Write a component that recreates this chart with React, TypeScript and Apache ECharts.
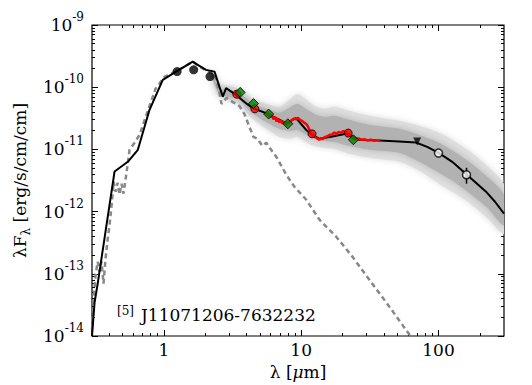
import React, { useEffect, useRef } from 'react';
import * as echarts from 'echarts';

const FONT = 'DejaVu Serif';

// ---------- data (wavelength in micron, lambda*F_lambda in erg/s/cm/cm) ----------
const modelWave = [0.30, 0.313, 0.331, 0.438, 0.547, 0.647, 0.787, 0.983, 1.23, 1.625, 1.767, 2.03, 2.34, 2.54, 2.69, 2.84, 3.36, 3.97, 4.44, 5.56, 7.77, 9.18, 10.86, 11.7, 13.6, 16.9, 21.2, 26.5, 37.0, 51.8, 68.5, 82.8, 101, 126, 158, 221, 258, 300];
const modelFlux = [1.0e-14, 3.41e-14, 7.23e-14, 4.42e-12, 6.32e-12, 9.86e-12, 4.33e-11, 1.31e-10, 1.78e-10, 2.58e-10, 2.28e-10, 1.90e-10, 1.78e-10, 1.02e-10, 7.06e-11, 9.64e-11, 7.52e-11, 5.53e-11, 4.60e-11, 3.83e-11, 2.64e-11, 3.18e-11, 2.07e-11, 1.78e-11, 1.48e-11, 1.61e-11, 1.78e-11, 1.43e-11, 1.39e-11, 1.34e-11, 1.29e-11, 1.10e-11, 8.73e-12, 6.32e-12, 4.06e-12, 2.11e-12, 1.44e-12, 9.25e-13];

const photoWave = [0.30, 0.308, 0.319, 0.330, 0.340, 0.352, 0.364, 0.377, 0.390, 0.403, 0.417, 0.431, 0.446, 0.461, 0.476, 0.492, 0.509, 0.526, 0.545, 0.563, 0.612, 0.666, 0.760, 0.870, 1.01, 1.24, 1.62, 1.79, 2.05, 2.34, 2.54, 2.63, 2.86, 3.16, 3.55, 3.86, 4.20, 4.49, 4.80, 5.22, 5.58, 5.97, 6.60, 7.30, 7.80, 8.93, 10.9, 13.6, 18.0, 23.6, 31.3, 43.8, 59.2, 65];
const photoFlux = [1.27e-14, 3.86e-14, 9.70e-14, 1.57e-13, 1.08e-13, 1.57e-13, 6.97e-14, 1.82e-13, 3.54e-13, 6.17e-13, 1.29e-12, 3.02e-12, 2.08e-12, 2.91e-12, 1.87e-12, 2.81e-12, 1.94e-12, 3.25e-12, 5.66e-12, 9.86e-12, 1.28e-11, 1.71e-11, 4.02e-11, 9.40e-11, 1.46e-10, 1.83e-10, 2.55e-10, 2.20e-10, 1.83e-10, 1.63e-10, 8.11e-11, 5.40e-11, 6.73e-11, 5.81e-11, 5.01e-11, 3.72e-11, 2.31e-11, 1.59e-11, 1.48e-11, 1.14e-11, 1.28e-11, 1.02e-11, 7.60e-12, 5.07e-12, 3.91e-12, 2.51e-12, 1.55e-12, 7.41e-13, 3.95e-13, 1.89e-13, 8.07e-14, 2.98e-14, 1.18e-14, 8.9e-15];

const irsWave = [5.56, 5.77, 5.97, 6.14, 6.28, 6.46, 6.63, 6.79, 6.94, 7.14, 7.34, 7.55, 7.77, 7.98, 8.31, 8.59, 8.88, 9.18, 9.49, 9.82, 10.15, 10.50, 10.85, 11.22, 11.53, 11.87, 12.27, 12.69, 13.12, 13.56, 13.96, 14.34, 14.83, 15.33, 16.04, 16.78, 17.44, 18.12, 18.74, 19.51, 20.28, 21.21, 22.16, 23.07, 23.97, 25.08, 26.19, 27.41, 28.82, 30.45, 32.24, 34.07, 36.0, 37.5];
const irsFlux = [3.91e-11, 3.59e-11, 3.37e-11, 3.46e-11, 3.06e-11, 3.30e-11, 2.81e-11, 3.13e-11, 2.70e-11, 2.91e-11, 2.58e-11, 2.77e-11, 2.48e-11, 2.64e-11, 2.77e-11, 2.99e-11, 3.13e-11, 3.06e-11, 3.21e-11, 2.99e-11, 2.88e-11, 2.70e-11, 2.58e-11, 2.33e-11, 2.01e-11, 1.78e-11, 1.65e-11, 1.57e-11, 1.50e-11, 1.43e-11, 1.52e-11, 1.46e-11, 1.57e-11, 1.61e-11, 1.70e-11, 1.73e-11, 1.87e-11, 1.78e-11, 1.92e-11, 1.85e-11, 1.97e-11, 1.90e-11, 1.78e-11, 1.61e-11, 1.50e-11, 1.46e-11, 1.50e-11, 1.43e-11, 1.46e-11, 1.39e-11, 1.43e-11, 1.37e-11, 1.41e-11, 1.36e-11];

// model fan envelopes
const fanWave = [2.22, 2.54, 3.0, 3.55, 4.2, 4.97, 5.87, 6.94, 8.2, 9.38, 10.55, 12.47, 14.75, 17.4, 22.4, 31.3, 51.8, 72.4, 101, 130, 167, 226, 300];
const fanOuterHigh = [1.97e-10, 1.13e-10, 1.05e-10, 9.40e-11, 6.98e-11, 5.81e-11, 5.20e-11, 4.83e-11, 6.25e-11, 7.80e-11, 6.73e-11, 5.01e-11, 4.49e-11, 4.83e-11, 4.17e-11, 3.46e-11, 2.88e-11, 2.39e-11, 1.85e-11, 1.37e-11, 9.51e-12, 5.46e-12, 2.70e-12];
const fanOuterLow = [1.36e-10, 7.24e-11, 6.25e-11, 5.40e-11, 3.46e-11, 2.58e-11, 1.99e-11, 1.59e-11, 1.48e-11, 1.59e-11, 1.37e-11, 1.14e-11, 1.06e-11, 1.02e-11, 8.49e-12, 7.33e-12, 6.32e-12, 4.54e-12, 2.81e-12, 2.01e-12, 1.39e-12, 7.98e-13, 4.42e-13];
const fanInnerHigh = [1.83e-10, 9.75e-11, 9.06e-11, 8.11e-11, 6.03e-11, 4.83e-11, 4.33e-11, 3.87e-11, 4.66e-11, 5.40e-11, 4.66e-11, 3.72e-11, 3.33e-11, 3.46e-11, 2.99e-11, 2.48e-11, 2.14e-11, 1.71e-11, 1.28e-11, 9.16e-12, 6.32e-12, 3.63e-12, 1.87e-12];
const fanInnerLow = [1.52e-10, 7.80e-11, 6.98e-11, 6.25e-11, 4.17e-11, 3.21e-11, 2.58e-11, 2.14e-11, 1.99e-11, 2.07e-11, 1.78e-11, 1.48e-11, 1.37e-11, 1.32e-11, 1.14e-11, 9.86e-12, 8.81e-12, 6.32e-12, 4.21e-12, 3.02e-12, 2.01e-12, 1.16e-12, 5.94e-13];

// photometry
const nirWave = [1.25, 1.65, 2.17];
const nirFlux = [1.78e-10, 1.90e-10, 1.48e-10];
const wiseWave = [3.4, 4.6, 12, 22];
const wiseFlux = [7.73e-11, 4.49e-11, 1.78e-11, 1.83e-11];
const spitzerWave = [3.6, 4.5, 5.8, 8.0, 24];
const spitzerFlux = [8.26e-11, 5.46e-11, 3.70e-11, 2.58e-11, 1.43e-11];
const pacsWave = [100, 160];
const pacsFlux = [8.73e-12, 3.91e-12];
const pacsLow = [8.3e-12, 2.81e-12];
const pacsHigh = [9.2e-12, 5.07e-12];
const limitWave = [70];
const limitFlux = [1.34e-11];

const xTickValues = [1, 10, 100];
const yTickExponents = [-14, -13, -12, -11, -10, -9];
const sourceLabel = 'J11071206-7632232';
const sourceIndex = '[5]';

// ---------- helpers ----------
const L = (v: number) => Math.log10(v);
const pairs = (w: number[], f: number[]) => w.map((x, i) => [L(x), L(f[i])]);
const X_MIN = L(0.3);
const X_MAX = L(300);
const Y_MIN = -14;
const Y_MAX = -9;

const xMajor = xTickValues.map(L);
const xMinor: number[] = [];
[0.1, 1, 10, 100].forEach((d) => {
  for (let k = 2; k <= 9; k++) {
    const v = L(k * d);
    if (v > X_MIN + 1e-6 && v < X_MAX - 1e-6) xMinor.push(v);
  }
});
const yMajor = yTickExponents;
const yMinor: number[] = [];
for (let n = -14; n < -9; n++) for (let k = 2; k <= 9; k++) yMinor.push(n + L(k));

const black = '#000';

function fanSeries(high: number[], low: number[], color: string, blur: number) {
  return {
    type: 'custom',
    silent: true,
    clip: true,
    data: [[0, -10]],
    renderItem: (_params: any, api: any) => {
      const pts: number[][] = [];
      for (let i = 0; i < fanWave.length; i++) pts.push(api.coord([L(fanWave[i]), L(high[i])]));
      for (let i = fanWave.length - 1; i >= 0; i--) pts.push(api.coord([L(fanWave[i]), L(low[i])]));
      return {
        type: 'polygon',
        shape: { points: pts, smooth: 0.25 },
        style: { fill: color, shadowBlur: blur, shadowColor: color },
      };
    },
    z: 1,
  };
}

// extra axes that only carry inward tick marks (matplotlib style, all four sides)
function tickAxis(isX: boolean, position: string, values: number[], len: number) {
  return {
    type: 'value',
    min: isX ? X_MIN : Y_MIN,
    max: isX ? X_MAX : Y_MAX,
    position,
    splitLine: { show: false },
    axisLabel: { show: false },
    axisLine: { show: false, onZero: false },
    axisTick: { show: true, inside: true, length: len, customValues: values, lineStyle: { color: black, width: 1 } },
  };
}

export default function App() {
  const ref = useRef<HTMLDivElement>(null);
  useEffect(() => {
    document.body.style.margin = '0';
    if (!ref.current) return;
    const chart = echarts.init(ref.current, undefined, { renderer: 'svg' });

    const scatter = (w: number[], f: number[], opts: any) => ({
      type: 'scatter',
      data: pairs(w, f),
      silent: true,
      z: 5,
      ...opts,
    });

    const errData = pacsWave.map((w, i) => [L(w), L(pacsLow[i]), L(pacsHigh[i])]);

    chart.setOption({
      animation: false,
      backgroundColor: '#fff',
      grid: {
        left: 92,
        right: 28,
        top: 25,
        bottom: 49,
        containLabel: false,
        outerBoundsMode: 'none',
        show: true,
        borderColor: black,
        borderWidth: 1.2,
        backgroundColor: 'transparent',
      },
      xAxis: [
        {
          type: 'value',
          min: X_MIN,
          max: X_MAX,
          position: 'bottom',
          splitLine: { show: false },
          axisLine: { show: false, onZero: false },
          axisTick: { show: true, inside: true, length: 6, customValues: xMajor, lineStyle: { color: black, width: 1 } },
          axisLabel: {
            show: true,
            customValues: xMajor,
            formatter: (v: number) => String(Math.round(Math.pow(10, v))),
            color: black,
            fontFamily: FONT,
            fontSize: 17,
            margin: 5,
          },
          name: '{a|λ [}{i|μ}{a|m]}',
          nameLocation: 'middle',
          nameGap: 27,
          nameTextStyle: {
            rich: {
              a: { fontFamily: FONT, fontSize: 17, color: black },
              i: { fontFamily: FONT, fontSize: 17, color: black, fontStyle: 'italic' },
            },
          },
        },
        tickAxis(true, 'bottom', xMinor, 3),
        tickAxis(true, 'top', xMajor, 6),
        tickAxis(true, 'top', xMinor, 3),
      ],
      yAxis: [
        {
          type: 'value',
          min: Y_MIN,
          max: Y_MAX,
          position: 'left',
          splitLine: { show: false },
          axisLine: { show: false, onZero: false },
          axisTick: { show: true, inside: true, length: 6, customValues: yMajor, lineStyle: { color: black, width: 1 } },
          axisLabel: {
            show: true,
            customValues: yMajor,
            formatter: (v: number) => `{b|10}{s|${Math.round(v)}}`,
            margin: 8,
            rich: {
              b: { fontFamily: FONT, fontSize: 17, color: black, lineHeight: 28 },
              s: { fontFamily: FONT, fontSize: 12, color: black, lineHeight: 10, verticalAlign: 'top' },
            },
          },
          name: '{a|λF}{s|λ}{a| [erg/s/cm/cm]}',
          nameLocation: 'middle',
          nameRotate: 90,
          nameGap: 55,
          nameTextStyle: {
            rich: {
              a: { fontFamily: FONT, fontSize: 17, color: black, lineHeight: 24 },
              s: { fontFamily: FONT, fontSize: 12, color: black, lineHeight: 10, verticalAlign: 'bottom' },
            },
          },
        },
        tickAxis(false, 'left', yMinor, 3),
        tickAxis(false, 'right', yMajor, 6),
        tickAxis(false, 'right', yMinor, 3),
      ],
      series: [
        fanSeries(fanOuterHigh, fanOuterLow, '#dfdfdf', 6),
        fanSeries(fanInnerHigh, fanInnerLow, '#b2b2b2', 8),
        {
          type: 'line',
          data: pairs(photoWave, photoFlux),
          showSymbol: false,
          symbol: 'none',
          silent: true,
          z: 2,
          lineStyle: { color: '#888', width: 2.5, type: [5, 3.5] },
        },
        {
          type: 'line',
          data: pairs(modelWave, modelFlux),
          showSymbol: false,
          symbol: 'none',
          silent: true,
          z: 3,
          lineStyle: { color: black, width: 2 },
        },
        {
          type: 'line',
          data: pairs(irsWave, irsFlux),
          showSymbol: false,
          symbol: 'none',
          silent: true,
          z: 4,
          lineStyle: { color: '#ff0000', width: 2.5 },
        },
        {
          type: 'custom',
          silent: true,
          z: 4,
          data: errData,
          encode: { x: 0, y: [1, 2] },
          renderItem: (_p: any, api: any) => {
            const a = api.coord([api.value(0), api.value(1)]);
            const b = api.coord([api.value(0), api.value(2)]);
            return { type: 'line', shape: { x1: a[0], y1: a[1], x2: b[0], y2: b[1] }, style: { stroke: black, lineWidth: 1.5 } };
          },
        },
        scatter(nirWave, nirFlux, { symbol: 'circle', symbolSize: 9, itemStyle: { color: black } }),
        scatter(wiseWave, wiseFlux, { symbol: 'circle', symbolSize: 8, itemStyle: { color: '#ff0000', borderColor: black, borderWidth: 1 } }),
        scatter(spitzerWave, spitzerFlux, { symbol: 'diamond', symbolSize: [10, 10], itemStyle: { color: '#008000', borderColor: black, borderWidth: 1 } }),
        scatter(pacsWave, pacsFlux, { symbol: 'circle', symbolSize: 8, itemStyle: { color: '#fff', borderColor: black, borderWidth: 1.5 } }),
        scatter(limitWave, limitFlux, { symbol: 'triangle', symbolRotate: 180, symbolSize: 8, itemStyle: { color: black } }),
      ],
      graphic: [
        {
          type: 'text',
          left: 117,
          top: 305,
          style: { text: sourceIndex, fontFamily: FONT, fontSize: 12, fill: black },
        },
        {
          type: 'text',
          left: 141,
          top: 306,
          style: { text: sourceLabel, fontFamily: FONT, fontSize: 17, fill: black },
        },
      ],
    });
    return () => chart.dispose();
  }, []);
  return <div ref={ref} style={{ width: 532, height: 385 }} />;
}
